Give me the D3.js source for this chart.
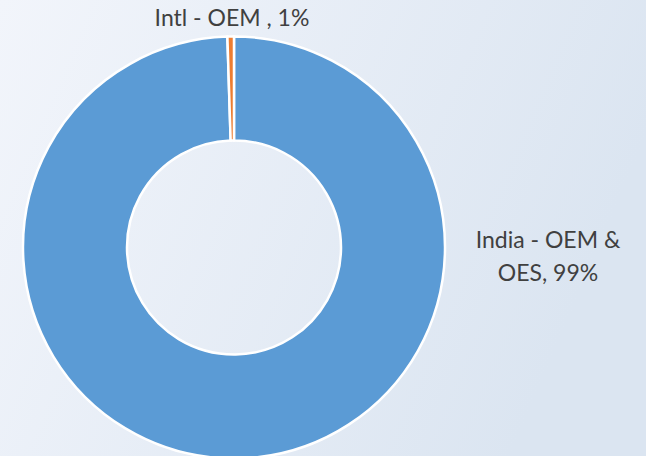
<!DOCTYPE html>
<html>
<head>
<meta charset="utf-8">
<script src="https://cdn.jsdelivr.net/npm/d3@7"></script>
<style>
  body { margin: 0; overflow: hidden; }
  text { font-family: Lato, "Open Sans", sans-serif; fill: #404040; }
</style>
</head>
<body>
<div id="chart"></div>
<script>
var categories = ["India - OEM & OES", "Intl - OEM "];
var values = [99.5, 0.5];
var labels = ["99%", "1%"];
var colors = ["#5b9bd5", "#ed7d31"];

var w = 646, h = 456;
var cx = 234, cy = 247.5, outer = 211, inner = 107;

var svg = d3.select("#chart").append("svg")
  .attr("width", w)
  .attr("height", h);

var grad = svg.append("defs").append("linearGradient")
  .attr("id", "bg")
  .attr("x1", "0%").attr("y1", "0%")
  .attr("x2", "100%").attr("y2", "30%");
grad.append("stop").attr("offset", "0%").attr("stop-color", "#f2f5fb");
grad.append("stop").attr("offset", "100%").attr("stop-color", "#dbe5f1");

svg.append("rect")
  .attr("width", w).attr("height", h)
  .attr("fill", "url(#bg)");

var pie = d3.pie().sort(null).value(function(d){ return d; });
var arc = d3.arc().innerRadius(inner).outerRadius(outer);

var g = svg.append("g").attr("transform", "translate(" + cx + "," + cy + ")");

g.selectAll("path")
  .data(pie(values))
  .enter()
    .append("path")
      .attr("d", arc)
      .attr("fill", function(d, i){ return colors[i]; })
      .attr("stroke", "#fff")
      .attr("stroke-width", 2.5);

// India label, right of the ring, two lines
var t1 = svg.append("text")
  .attr("text-anchor", "middle")
  .attr("font-size", 23);
t1.append("tspan").attr("x", 548).attr("y", 248).text("India - OEM &");
t1.append("tspan").attr("x", 548).attr("y", 281).text("OES, " + labels[0]);

// Intl label, above the ring
svg.append("text")
  .attr("text-anchor", "middle")
  .attr("x", 232).attr("y", 26)
  .attr("font-size", 23)
  .text(categories[1] + ", " + labels[1]);
</script>
</body>
</html>
